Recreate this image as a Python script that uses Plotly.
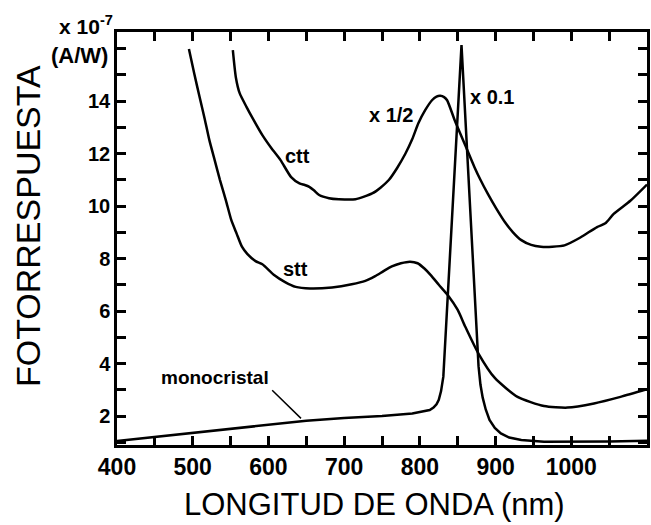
import plotly.graph_objects as go

# ---- data (wavelength in nm, photoresponse in 1e-7 A/W) ----
mono_x = [400, 500, 600, 650, 700, 750, 790, 805, 813, 818, 822, 825, 828, 831, 833, 835,
          855, 871, 873.5, 875.5, 877.5, 880, 883, 887, 892, 899, 907, 918, 934, 964, 1008, 1050, 1100]
mono_y = [1.05, 1.36, 1.66, 1.82, 1.92, 2.00, 2.10, 2.17, 2.23, 2.32, 2.45, 2.62, 2.95, 3.5, 4.4, 5.6,
          16.13, 7.3, 5.8, 4.7, 3.9, 3.2, 2.7, 2.25, 1.85, 1.55, 1.34, 1.18, 1.09, 1.02, 1.02, 1.03, 1.06]

stt_x = [495, 502, 509, 516, 522, 529, 536, 544, 551, 558, 565, 572, 583, 592, 607, 622, 636, 655,
         684, 710, 728, 741, 752, 763, 775, 787, 797, 806, 815, 825, 837, 850, 860, 877, 899, 929,
         964, 995, 1030, 1065, 1100]
stt_y = [15.98, 15.05, 14.16, 13.3, 12.51, 11.75, 10.99, 10.2, 9.46, 8.95, 8.45, 8.18, 7.9, 7.78, 7.38,
         7.1, 6.92, 6.86, 6.90, 7.02, 7.15, 7.33, 7.52, 7.70, 7.82, 7.88, 7.82, 7.62, 7.35, 7.0,
         6.6, 6.04, 5.4, 4.4, 3.45, 2.73, 2.38, 2.32, 2.48, 2.73, 3.02]

ctt_x = [553, 557, 562, 571, 580, 592, 604, 616, 630, 641, 648, 654, 660, 667, 680, 693, 715, 737,
         748, 759, 770, 781, 790, 798, 807, 816, 822, 827, 832, 836, 846, 859, 872, 880, 890, 901,
         912, 923, 934, 947, 960, 975, 991, 1012, 1034, 1045, 1056, 1078, 1100]
ctt_y = [15.94, 14.9, 14.3, 13.78, 13.3, 12.7, 12.2, 11.75, 11.1, 10.86, 10.8, 10.73, 10.6, 10.42,
         10.3, 10.26, 10.26, 10.48, 10.7, 10.99, 11.45, 12.0, 12.55, 13.15, 13.65, 14.03, 14.17,
         14.2, 14.15, 14.03, 13.27, 12.38, 11.49, 11.0, 10.45, 9.9, 9.4, 9.0, 8.7, 8.52, 8.45, 8.45,
         8.5, 8.8, 9.2, 9.34, 9.7, 10.2, 10.82]

# tick positions (all ticks) and labels (blank where the original has no label)
x_tickvals = [400, 450, 500, 550, 600, 650, 700, 750, 800, 850, 900, 950, 1000, 1050, 1100]
x_labels = ["400", "", "500", "", "600", "", "700", "", "800", "", "900", "", "1000", "", ""]
y_tickvals = [1, 2, 3, 4, 5, 6, 7, 8, 9, 10, 11, 12, 13, 14, 15, 16]
y_labels = ["", "2", "", "4", "", "6", "", "8", "", "10", "", "12", "", "14", "", ""]

labels = ["ctt", "stt", "x 1/2", "x 0.1", "monocristal"]
label_x = [638, 636, 762, 895, 529]
label_y = [11.9, 7.62, 13.46, 14.16, 3.47]
label_size = [20, 20, 20, 20, 19]
pointer_from = (601, 3.09)
pointer_to = (643, 1.91)

FONT = "Liberation Sans, Arial, sans-serif"


def bold(t):
    return "<b>%s</b>" % t if t else ""


fig = go.Figure()
fig.add_trace(go.Scatter(x=mono_x, y=mono_y, mode="lines",
                         line=dict(color="black", width=2.5), name="monocristal"))
fig.add_trace(go.Scatter(x=stt_x, y=stt_y, mode="lines",
                         line=dict(color="black", width=2.5, shape="spline", smoothing=0.6), name="stt"))
fig.add_trace(go.Scatter(x=ctt_x, y=ctt_y, mode="lines",
                         line=dict(color="black", width=2.5, shape="spline", smoothing=0.6), name="ctt"))

for t, lx, ly, s in zip(labels, label_x, label_y, label_size):
    fig.add_annotation(x=lx, y=ly, xref="x", yref="y", text=bold(t), showarrow=False,
                       font=dict(family=FONT, size=s, color="black"))

fig.add_annotation(x=pointer_to[0], y=pointer_to[1], ax=pointer_from[0], ay=pointer_from[1],
                   xref="x", yref="y", axref="x", ayref="y", text=" ", showarrow=True,
                   arrowhead=0, arrowwidth=1.5, arrowcolor="black")

# unit label at top-left
fig.add_annotation(x=-0.058, y=1.016, xref="paper", yref="paper", text="<b>x 10<sup>-7</sup></b>",
                   showarrow=False, xanchor="center", yanchor="middle",
                   font=dict(family=FONT, size=21, color="black"))
fig.add_annotation(x=-0.07, y=0.942, xref="paper", yref="paper", text="<b>(A/W)</b>",
                   showarrow=False, xanchor="center", yanchor="middle",
                   font=dict(family=FONT, size=22, color="black"))

# axis titles
fig.add_annotation(x=-0.168, y=0.530, xref="paper", yref="paper", text="FOTORRESPUESTA",
                   showarrow=False, textangle=-90, xanchor="center", yanchor="middle",
                   font=dict(family=FONT, size=34, color="black"))
fig.add_annotation(x=0.486, y=-0.143, xref="paper", yref="paper", text="LONGITUD DE ONDA (nm)",
                   showarrow=False, xanchor="center", yanchor="middle",
                   font=dict(family=FONT, size=31, color="black"))

fig.update_xaxes(range=[400, 1100], tickmode="array", tickvals=x_tickvals,
                 ticktext=[bold(t) for t in x_labels],
                 ticks="inside", ticklen=9, tickwidth=3, tickcolor="black",
                 showline=True, linewidth=2.5, linecolor="black", mirror="ticks",
                 showgrid=False, layer="above traces",
                 tickfont=dict(family=FONT, size=23, color="black"))
fig.update_yaxes(range=[0.896, 16.63], tickmode="array", tickvals=y_tickvals,
                 ticktext=[bold(t) for t in y_labels],
                 ticks="inside", ticklen=9, tickwidth=3, tickcolor="black",
                 showline=True, linewidth=2.5, linecolor="black", mirror="ticks",
                 showgrid=False, layer="above traces",
                 tickfont=dict(family=FONT, size=20, color="black"))

fig.update_layout(width=651, height=525, margin=dict(l=117, r=1, t=32, b=80),
                  paper_bgcolor="white", plot_bgcolor="white", showlegend=False)

fig.write_html("out.html")
